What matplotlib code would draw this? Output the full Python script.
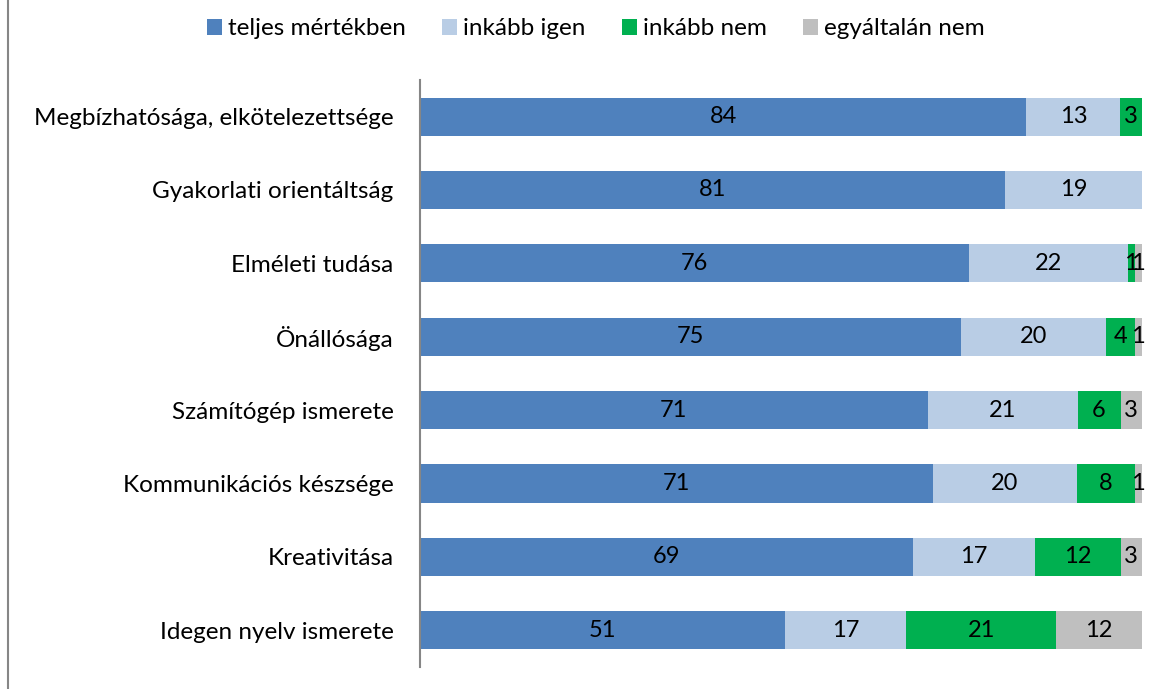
import matplotlib
matplotlib.use('Agg')
import matplotlib.pyplot as plt
import numpy as np
from matplotlib.lines import Line2D

plt.rcParams['font.family'] = ['Lato', 'DejaVu Sans']

categories = ['Megbízhatósága, elkötelezettsége', 'Gyakorlati orientáltság',
              'Elméleti tudása', 'Önállósága', 'Számítógép ismerete',
              'Kommunikációs készsége', 'Kreativitása', 'Idegen nyelv ismerete']
series = ['teljes mértékben', 'inkább igen', 'inkább nem', 'egyáltalán nem']
teljes = [84, 81, 76, 75, 71, 71, 69, 51]
inkabb_igen = [13, 19, 22, 20, 21, 20, 17, 17]
inkabb_nem = [3, 0, 1, 4, 6, 8, 12, 21]
egyaltalan = [0, 0, 1, 1, 3, 1, 3, 12]
colors = ['#4F81BD', '#B9CDE5', '#00B050', '#BFBFBF']

data = np.array([teljes, inkabb_igen, inkabb_nem, egyaltalan], dtype=float)
totals = data.sum(axis=0)
pct = data / totals * 100

fig = plt.figure(figsize=(11.57, 6.89), dpi=100)
ax = fig.add_axes([0.363, 0.032, 0.624, 0.852])

y = np.arange(len(categories))
left = np.zeros(len(categories))
for i, name in enumerate(series):
    bars = ax.barh(y, pct[i], left=left, height=0.52, color=colors[i], label=name)
    for j, b in enumerate(bars):
        v = data[i][j]
        if v > 0:
            ax.text(left[j] + pct[i][j] / 2, y[j], '%d' % v, ha='center', va='center',
                    fontsize=17, color='black')
    left += pct[i]

ax.set_xlim(0, 100)
ax.set_ylim(len(categories) - 0.5, -0.5)
ax.set_yticks(y)
ax.set_yticklabels(categories, fontsize=17.5)
ax.tick_params(axis='y', length=0, pad=19)
ax.set_xticks([])
for s in ['top', 'right', 'bottom']:
    ax.spines[s].set_visible(False)
ax.spines['left'].set_color('#868686')
ax.spines['left'].set_linewidth(1.5)

fig.legend(loc='center', bbox_to_anchor=(0.515, 0.958), ncol=4, frameon=False,
           fontsize=17.5, handlelength=0.6, handleheight=0.6, handletextpad=0.25,
           columnspacing=1.5)

fig.add_artist(Line2D([8 / 1157, 8 / 1157], [0, 1], transform=fig.transFigure,
                      color='#868686', linewidth=1.5))

fig.savefig('out.png', dpi=100)
